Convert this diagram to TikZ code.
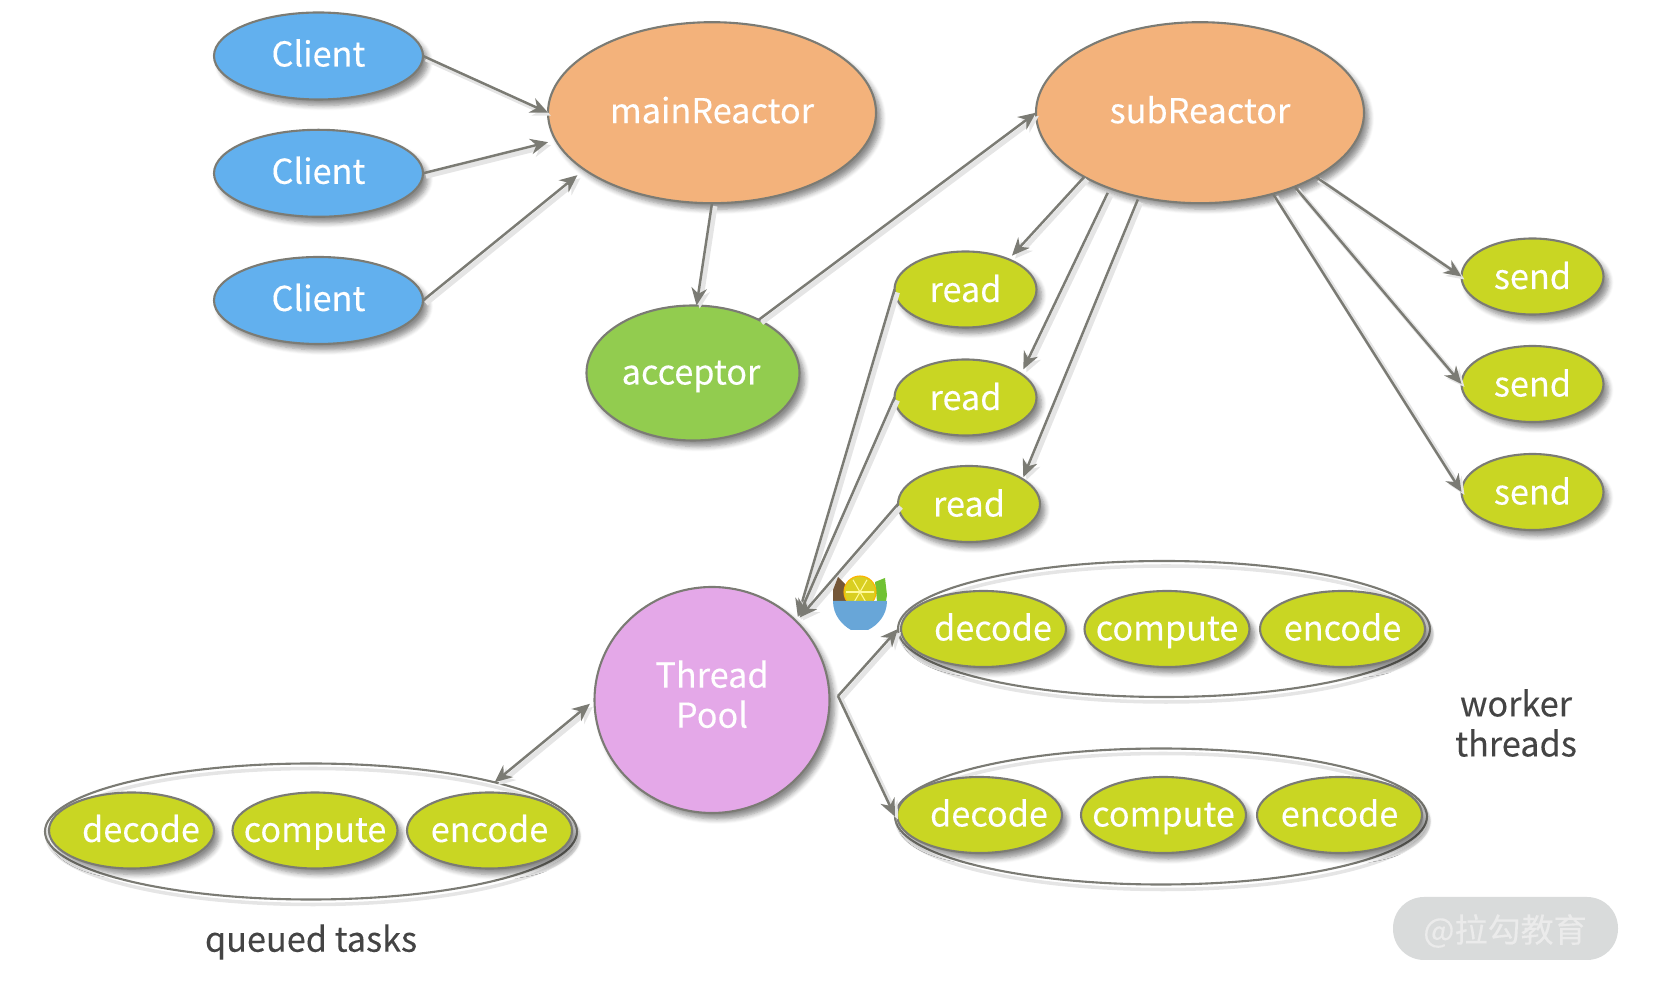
\documentclass[tikz,border=0pt]{standalone}
\usepackage{fontspec}
\setmainfont{Noto Sans CJK SC}[FakeBold=0.2]
\usepackage{xcolor}
\usepackage{tikz}
\usetikzlibrary{arrows.meta,shapes.geometric,shadows.blur}
\definecolor{edgegray}{HTML}{7B7B74}
\definecolor{clientblue}{HTML}{62B0EE}
\definecolor{reactororange}{HTML}{F3B27B}
\definecolor{acceptorgreen}{HTML}{92CC4F}
\definecolor{taskgreen}{HTML}{C9D623}
\definecolor{poolpurple}{HTML}{E4A8E8}
\definecolor{notegray}{HTML}{444444}
\definecolor{markgray}{HTML}{D9DBDB}
\tikzset{
	blob/.style={ellipse,draw=edgegray,line width=0.6pt,inner ysep=0pt,inner xsep=-8mm,outer sep=0pt,text=white,
		font=\fontsize{9.75}{11.4}\selectfont,text height=2.5mm,text depth=0pt,
		blur shadow={shadow xshift=0.5mm,shadow yshift=-0.6mm,shadow blur radius=0.5mm,shadow blur steps=6,shadow opacity=45}},
	client/.style={blob,fill=clientblue,minimum width=20.9mm,minimum height=8.7mm,text height=2.1mm},
	reactor/.style={blob,fill=reactororange,minimum width=32.8mm,minimum height=18.1mm,text height=2.1mm},
	accept/.style={blob,fill=acceptorgreen,minimum width=21.3mm,minimum height=13.5mm,text height=2.3mm},
	small/.style={blob,fill=taskgreen,minimum width=14.2mm,minimum height=7.6mm},
	task/.style={blob,fill=taskgreen,minimum width=16.5mm,minimum height=7.6mm,text height=2.3mm},
	pool/.style={blob,fill=poolpurple,minimum width=23.5mm,minimum height=22.6mm,align=center,text height={},text depth=1.2mm},
	ring/.style={ellipse,draw=edgegray,line width=0.6pt,inner sep=0pt,outer sep=0pt,minimum width=53.2mm,minimum height=13.6mm,
		preaction={draw=black!10,line width=1pt,transform canvas={shift={(0.2mm,-0.5mm)}}}},
	conn/.style={draw=edgegray,line width=0.7pt,-{Stealth[length=5pt,width=4.4pt]},
		preaction={draw=black!10,line width=1.4pt,transform canvas={shift={(0.3mm,-0.3mm)}}}},
	note/.style={text=notegray,font=\fontsize{9.75}{11.4}\selectfont,align=center,inner sep=0pt}
}
\begin{document}
\begin{tikzpicture}[x=0.1mm,y=-0.1mm]
	\useasboundingbox (0,0) rectangle (1660,984);

	\node[client] (client1) at (318.5,56) {Client};
	\node[client] (client2) at (318.5,173.3) {Client};
	\node[client] (client3) at (318.5,300.5) {Client};
	\node[reactor] (main) at (712,112.7) {mainReactor};
	\node[reactor] (sub) at (1200,112.7) {subReactor};
	\node[accept] (acceptor) at (693,373) {acceptor\hspace*{0.4mm}};

	\node[small] (read1) at (965.5,289.5) {read};
	\node[small] (read2) at (965.5,397.5) {read};
	\node[small] (read3) at (969,504) {read};
	\node[small] (send1) at (1532.5,276.5) {send};
	\node[small] (send2) at (1532.5,384) {send};
	\node[small] (send3) at (1532.5,492) {send};

	\node[pool] (tp) at (712,700) {Thread\\Pool};

	\node[ring] (queue) at (311,831.5) {}; % queued
	\node[task] (qdecode) at (131.5,830.5) {\hspace*{1.9mm}decode};
	\node[task] (qcompute) at (315,830.5) {compute};
	\node[task] (qencode) at (489.5,830.5) {encode};

	\node[ring] (worker1) at (1164,629) {}; % upper workers
	\node[task] (adecode) at (983.5,629) {\hspace*{1.9mm}decode};
	\node[task] (acompute) at (1167,629) {compute};
	\node[task] (aencode) at (1342.5,629) {encode};

	\node[ring] (worker2) at (1161,816.5) {}; % lower workers
	\node[task] (bdecode) at (979.5,815) {\hspace*{1.9mm}decode};
	\node[task] (bcompute) at (1163.5,815) {compute};
	\node[task] (bencode) at (1339.5,815) {encode};

	\draw[conn] (client1.east) -- (main.west);
	\draw[conn,shorten >=0.8mm] (client2.east) -- (main.190);
	\draw[conn,shorten >=0.9mm] (client3.east) -- (main.204);
	\draw[conn] (main.south) -- (acceptor.87);
	\draw[conn] (acceptor.39) -- (sub.west);

	\draw[conn,shorten >=0.5mm] (sub.209) -- (read1.35);
	\draw[conn,shorten <=0.5mm,shorten >=0.5mm] (sub.220) -- (read2.23);
	\draw[conn,shorten <=0.3mm,shorten >=0.2mm] (sub.234) -- (read3.25);
	\draw[conn] (sub.331) -- (send1.west);
	\draw[conn] (sub.322) -- (send2.west);
	\draw[conn] (sub.312) -- (send3.west);

	\draw[conn,shorten >=0.5mm] (read1.west) -- (tp.43);
	\draw[conn,shorten >=0.5mm] (read2.west) -- (tp.43);
	\draw[conn,shorten >=0.5mm] (read3.west) -- (tp.43);

	\coordinate (fork) at ([xshift=0.85mm,yshift=0.4mm]tp.east);
	\draw[conn] (fork) -- (worker1.west);
	\draw[conn] (fork) -- (worker2.west);
	\draw[conn,{Stealth[length=5pt,width=4.4pt]}-{Stealth[length=5pt,width=4.4pt]},shorten >=0.6mm] (queue.15) -- (tp.west);

	\node[note] (queuednote) at (311,942) {queued tasks};
	\node[note] (workernote) at (1516,723) {worker\\threads};

	% bowl
	\fill[green!40!olive!80!white] (875,582) -- (885,578) -- (887,595) -- (886,601) -- (877,601) -- cycle;
	\fill[brown!60!black!80!gray] (833,590) -- (838,577) -- (862,601) -- (833,601) -- cycle;
	\fill[yellow!60!olive!85!white,draw=orange!60!yellow,line width=0.3pt] (860,592) circle (16);
	\foreach \a in {0,60,...,300}
		\draw[yellow!40!white,line width=0.3pt] (860,592) -- ++(\a:14);
	\fill[clientblue!80!gray] (833,601) -- (887,601) .. controls (887,615) and (878,625) .. (868,630) -- (851,630) .. controls (842,625) and (833,615) .. (833,601) -- cycle;

	\fill[markgray,rounded corners=3.1mm] (1393,897) rectangle (1618,960);
	\node[text=white!92!black,font=\fontsize{9.4}{12}\selectfont,inner sep=0pt] (mark) at (1505,931) {@拉勾教育};
\end{tikzpicture}
\end{document}
